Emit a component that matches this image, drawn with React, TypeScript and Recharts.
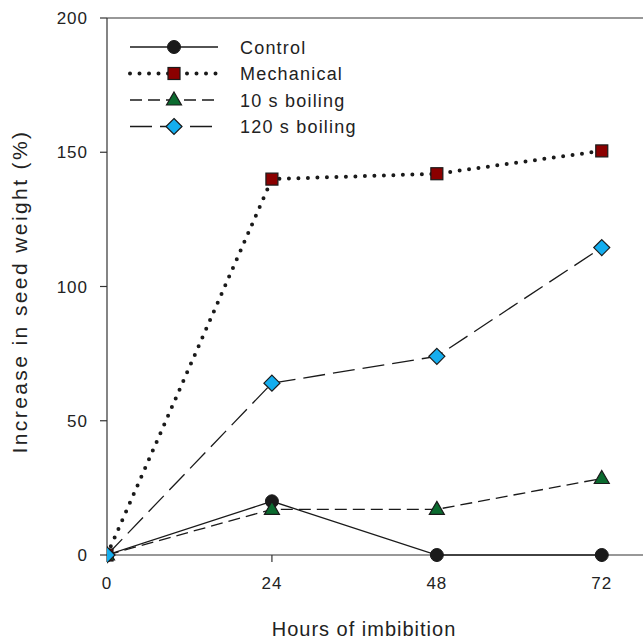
import React from 'react';
import { LineChart, Line, XAxis, YAxis, ReferenceLine, Label } from 'recharts';

// hours after start of imbibition
const hours = [0, 24, 48, 72];
// increase in seed weight (%)
const control = [0, 20, 0, 0];
const mechanical = [0, 140, 142, 150.5];
const boil10 = [0, 17, 17, 28.5];
const boil120 = [0, 64, 74, 114.5];
const yTicks = [0, 50, 100, 150, 200];

const data = hours.map((h, i) => ({
  h,
  control: control[i],
  mechanical: mechanical[i],
  boil10: boil10[i],
  boil120: boil120[i],
}));

const FONT = '"Liberation Sans", Arial, sans-serif';
const INK = '#222';

type Shape = 'circle' | 'square' | 'triangle' | 'diamond';

const series = [
  { key: 'control', name: 'Control', shape: 'circle' as Shape, fill: '#1a1a1a', dash: undefined, width: 1.3, cap: 'butt' },
  { key: 'mechanical', name: 'Mechanical', shape: 'square' as Shape, fill: '#8b0000', dash: '0 9.5', width: 4, cap: 'round' },
  { key: 'boil10', name: '10 s boiling', shape: 'triangle' as Shape, fill: '#0b6b2f', dash: '12 6', width: 1.3, cap: 'butt' },
  { key: 'boil120', name: '120 s boiling', shape: 'diamond' as Shape, fill: '#14aeef', dash: '22 8', width: 1.3, cap: 'butt' },
];

const Marker = ({ cx, cy, shape, fill }: { cx: number; cy: number; shape: Shape; fill: string }) => {
  if (cx == null || cy == null) return null;
  const stroke = '#1a1a1a';
  if (shape === 'circle') return <circle cx={cx} cy={cy} r={6.5} fill={fill} stroke={stroke} strokeWidth={1} />;
  if (shape === 'square')
    return <rect x={cx - 6} y={cy - 6} width={12} height={12} fill={fill} stroke={stroke} strokeWidth={1.2} />;
  if (shape === 'triangle')
    return (
      <polygon
        points={`${cx},${cy - 8} ${cx + 7.5},${cy + 5} ${cx - 7.5},${cy + 5}`}
        fill={fill}
        stroke={stroke}
        strokeWidth={1.2}
      />
    );
  return (
    <polygon
      points={`${cx},${cy - 8} ${cx + 8},${cy} ${cx},${cy + 8} ${cx - 8},${cy}`}
      fill={fill}
      stroke={stroke}
      strokeWidth={1.2}
    />
  );
};

// legend drawn on its own, over the plot's upper left corner
const LegendBox = () => (
  <svg width={260} height={110} style={{ position: 'absolute', left: 125, top: 35 }}>
    {series.map((s, i) => {
      const y = 12 + i * 26.5;
      return (
        <g key={s.key}>
          <line
            x1={5}
            x2={93}
            y1={y}
            y2={y}
            stroke="#1a1a1a"
            strokeWidth={s.width}
            strokeDasharray={s.dash}
            strokeLinecap={s.cap as any}
          />
          <Marker cx={49} cy={y} shape={s.shape} fill={s.fill} />
          <text x={115} y={y + 6.5} fontSize={18} letterSpacing={1.2} fill={INK} fontFamily={FONT}>
            {s.name}
          </text>
        </g>
      );
    })}
  </svg>
);

const tickStyle = { fontSize: 17, fill: INK, fontFamily: FONT, letterSpacing: 1 };

export default function App() {
  return (
    <div style={{ position: 'absolute', left: 0, top: 0, width: 643, height: 641, background: '#fff' }}>
      <LineChart width={643} height={641} data={data} margin={{ top: 18, right: 0, left: 47, bottom: 0 }}>
        <XAxis
          dataKey="h"
          type="number"
          domain={[0, 78]}
          ticks={hours}
          allowDataOverflow
          height={86}
          tickSize={7}
          tickMargin={15}
          tick={tickStyle}
          stroke="#333"
          strokeWidth={1.2}
        >
          <Label
            content={() => (
              <text x={364} y={636} textAnchor="middle" fontSize={20} letterSpacing={1} fill={INK} fontFamily={FONT}>
                Hours of imbibition
              </text>
            )}
          />
        </XAxis>
        <YAxis
          type="number"
          domain={[0, 200]}
          ticks={yTicks}
          width={60}
          tickSize={7}
          tickMargin={12}
          tick={tickStyle}
          stroke="#333"
          strokeWidth={1.2}
        >
          <Label
            content={() => (
              <text
                x={0}
                y={0}
                transform="translate(27,291.5) rotate(-90)"
                textAnchor="middle"
                fontSize={21}
                letterSpacing={2.4}
                fill={INK}
                fontFamily={FONT}
              >
                Increase in seed weight (%)
              </text>
            )}
          />
        </YAxis>
        <ReferenceLine y={200} stroke="#333" strokeWidth={1.2} />
        {series.map((s) => (
          <Line
            key={s.key}
            dataKey={s.key}
            name={s.name}
            stroke="#1a1a1a"
            strokeWidth={s.width}
            strokeDasharray={s.dash}
            strokeLinecap={s.cap as any}
            isAnimationActive={false}
            dot={(p: any) => <Marker key={`${s.key}-${p.index}`} cx={p.cx} cy={p.cy} shape={s.shape} fill={s.fill} />}
            activeDot={false}
          />
        ))}
      </LineChart>
      <LegendBox />
    </div>
  );
}
